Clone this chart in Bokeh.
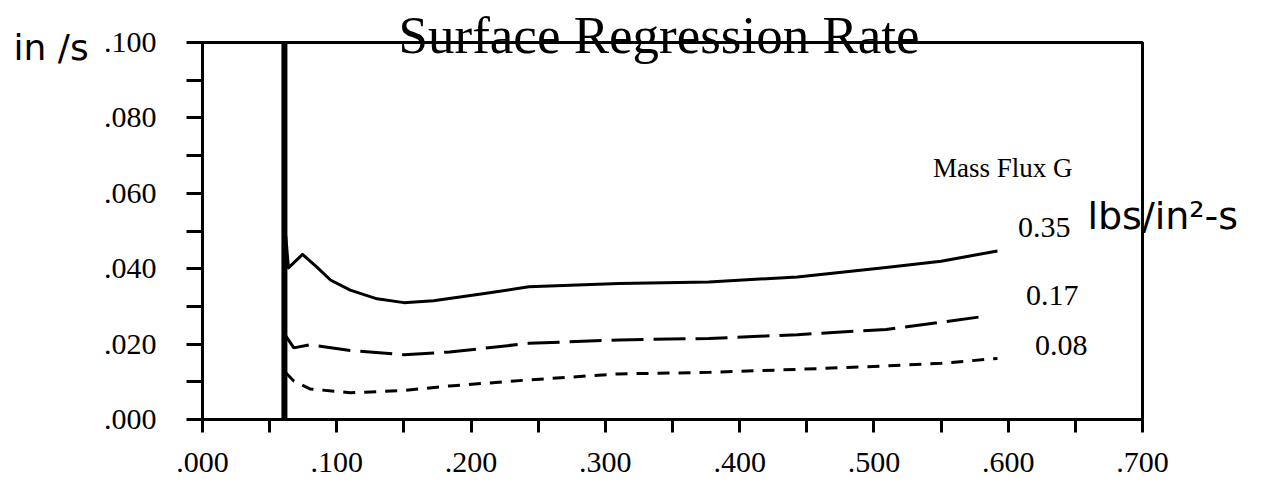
from bokeh.plotting import figure
from bokeh.models import Range1d, FixedTicker, Label, LinearAxis
from bokeh.embed import file_html
from bokeh.resources import INLINE

# Regression rate (in/s) versus position for three mass fluxes
x_g035 = [0.062, 0.064, 0.0745, 0.085, 0.0953, 0.110, 0.130, 0.150, 0.172, 0.210, 0.243,
          0.310, 0.377, 0.443, 0.509, 0.550, 0.592]
r_g035 = [0.0487, 0.0402, 0.0438, 0.0405, 0.0370, 0.0343, 0.0320, 0.0310, 0.0315, 0.0334, 0.0352,
          0.0361, 0.0365, 0.0378, 0.0403, 0.0420, 0.0447]

x_g017 = [0.061, 0.068, 0.080, 0.110, 0.150, 0.184, 0.243, 0.310, 0.377, 0.443, 0.509, 0.550, 0.585]
r_g017 = [0.0227, 0.0190, 0.0198, 0.0183, 0.0172, 0.0179, 0.0202, 0.0211, 0.0215, 0.0225, 0.0239, 0.0258, 0.0275]

x_g008 = [0.062, 0.068, 0.080, 0.110, 0.150, 0.184, 0.243, 0.310, 0.377, 0.443, 0.509, 0.550, 0.592]
r_g008 = [0.0124, 0.0102, 0.0081, 0.0071, 0.0077, 0.0089, 0.0105, 0.0121, 0.0125, 0.0133, 0.0142, 0.0149, 0.0162]

# ignition transient, off scale for every flux
x_transient = [0.061, 0.061]
r_transient = [0.0, 0.100]

flux_names = ["0.35", "0.17", "0.08"]

x_ticks = [0.0, 0.1, 0.2, 0.3, 0.4, 0.5, 0.6, 0.7]
x_tick_labels = [".000", ".100", ".200", ".300", ".400", ".500", ".600", ".700"]
x_minor = [0.05, 0.15, 0.25, 0.35, 0.45, 0.55, 0.65]
y_ticks = [0.0, 0.02, 0.04, 0.06, 0.08, 0.1]
y_tick_labels = [".000", ".020", ".040", ".060", ".080", ".100"]
y_minor = [0.01, 0.03, 0.05, 0.07, 0.09]

SERIF = "Liberation Serif"
HAND = "DejaVu Sans"

W, H = 1272, 487
# the frame fills the canvas; the plotting box sits inside it with room for labels
BOX_L, BOX_R, BOX_T, BOX_B = 202, 1142, 42, 419
sx = (BOX_R - BOX_L) / (x_ticks[-1] - x_ticks[0])
sy = (BOX_B - BOX_T) / (y_ticks[-1] - y_ticks[0])
x_lo = x_ticks[0] - BOX_L / sx
x_hi = x_lo + W / sx
y_hi = y_ticks[-1] + BOX_T / sy
y_lo = y_hi - H / sy

p = figure(width=W, height=H, output_backend="svg", toolbar_location=None,
           x_range=Range1d(x_lo, x_hi), y_range=Range1d(y_lo, y_hi),
           x_axis_type=None, y_axis_type=None,
           min_border=0, min_border_left=0, min_border_right=0,
           min_border_top=0, min_border_bottom=0)
p.background_fill_color = "white"
p.border_fill_color = "white"
p.grid.visible = False
p.outline_line_color = None

xaxis = LinearAxis(fixed_location=y_ticks[0], bounds=(x_ticks[0], x_ticks[-1]))
yaxis = LinearAxis(fixed_location=x_ticks[0], bounds=(y_ticks[0], y_ticks[-1]))
for ax, ticks, minor, labels, out in (
        (xaxis, x_ticks, x_minor, x_tick_labels, 13),
        (yaxis, y_ticks, y_minor, y_tick_labels, 16)):
    ax.ticker = FixedTicker(ticks=ticks, minor_ticks=minor)
    ax.major_label_overrides = dict(zip(ticks, labels))
    ax.axis_line_width = 3
    ax.axis_line_color = "black"
    ax.major_tick_line_width = 3
    ax.minor_tick_line_width = 3
    ax.major_tick_line_color = "black"
    ax.minor_tick_line_color = "black"
    ax.major_tick_in = 0
    ax.minor_tick_in = 0
    ax.major_tick_out = out
    ax.minor_tick_out = out
    ax.major_label_text_font = SERIF
    ax.major_label_text_font_size = "30px"
    ax.major_label_text_color = "black"
xaxis.major_label_standoff = 20
yaxis.major_label_standoff = 30
p.add_layout(xaxis, "below")
p.add_layout(yaxis, "left")

# box around the plotting area
p.quad(left=x_ticks[0], right=x_ticks[-1], bottom=y_ticks[0], top=y_ticks[-1],
       fill_color=None, line_color="black", line_width=3)

p.line(x_transient, r_transient, line_color="black", line_width=6)
p.line(x_g035, r_g035, line_color="black", line_width=3, line_join="round")
p.line(x_g017, r_g017, line_color="black", line_width=3, line_dash="32 10")
p.line(x_g008, r_g008, line_color="black", line_width=3, line_dash="12 9")


def add_text(text, x, y, size, font=SERIF, align="left"):
    p.add_layout(Label(x=x, y=y, text=text, text_font=font, text_font_size=size,
                       text_align=align, text_baseline="alphabetic", text_color="black"))


add_text("Surface Regression Rate", 0.146, 0.1019, "53px")
add_text("in /s", -0.1407, 0.0987, "36px", font=HAND)
add_text("lbs/in²-s", 0.659, 0.0541, "38px", font=HAND)
add_text("Mass Flux G", 0.6479, 0.0668, "27px", align="right")
add_text(flux_names[0], 0.6464, 0.0509, "30px", align="right")
add_text(flux_names[1], 0.6523, 0.0329, "30px", align="right")
add_text(flux_names[2], 0.6590, 0.0196, "30px", align="right")

open("out.html", "w").write(file_html(p, INLINE))
